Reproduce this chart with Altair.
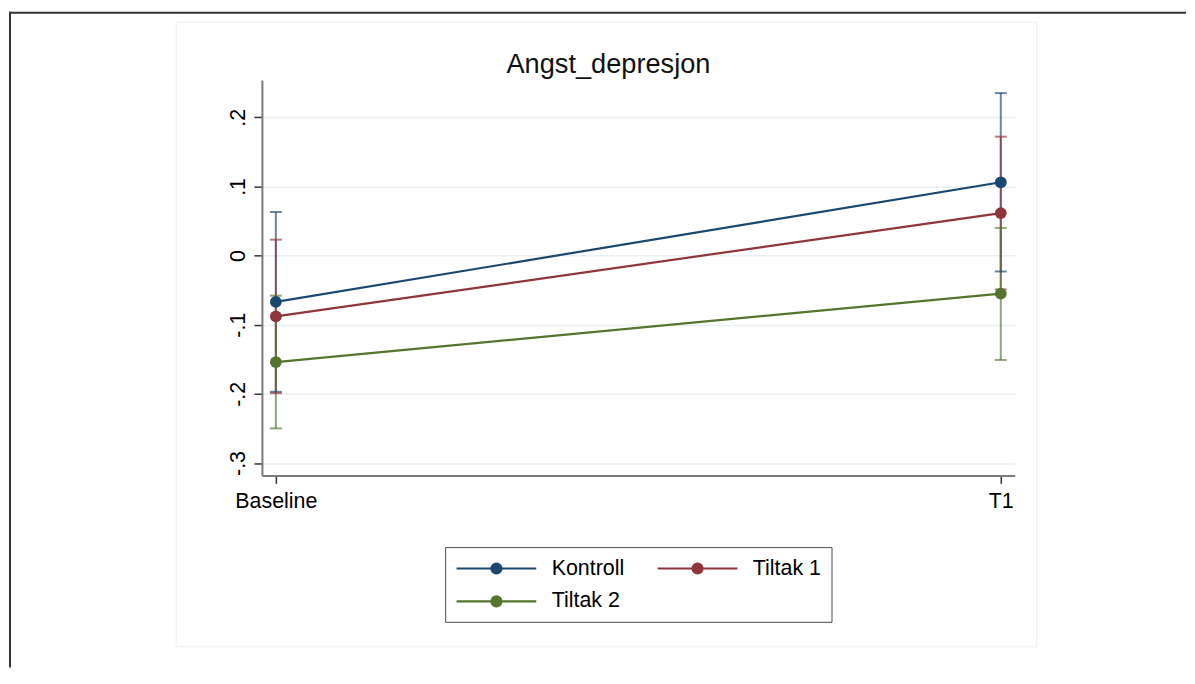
import altair as alt
import pandas as pd

groups = ["Kontroll", "Tiltak 1", "Tiltak 2"]
colors = ["#1a476f", "#90353b", "#55752f"]
times = ["Baseline", "T1"]
time_pos = [0, 1]

kontroll_mean = [-0.067, 0.106]
kontroll_lo = [-0.197, -0.023]
kontroll_hi = [0.063, 0.235]
tiltak1_mean = [-0.088, 0.0615]
tiltak1_lo = [-0.199, -0.049]
tiltak1_hi = [0.023, 0.172]
tiltak2_mean = [-0.154, -0.055]
tiltak2_lo = [-0.250, -0.151]
tiltak2_hi = [-0.058, 0.040]

y_ticks = [-0.3, -0.2, -0.1, 0, 0.1, 0.2]
y_labels = ["-.3", "-.2", "-.1", "0", ".1", ".2"]

series = {
    "Kontroll": (kontroll_mean, kontroll_lo, kontroll_hi),
    "Tiltak 1": (tiltak1_mean, tiltak1_lo, tiltak1_hi),
    "Tiltak 2": (tiltak2_mean, tiltak2_lo, tiltak2_hi),
}

rows = []
caps = []
for gi, g in enumerate(groups):
    m, lo, hi = series[g]
    for ti, t in enumerate(times):
        rows.append({"group": g, "order": gi, "t": time_pos[ti], "time": t,
                     "mean": m[ti], "lo": lo[ti], "hi": hi[ti]})
        caps.append({"group": g, "order": gi, "t": time_pos[ti], "v": lo[ti]})
        caps.append({"group": g, "order": gi, "t": time_pos[ti], "v": hi[ti]})
df = pd.DataFrame(rows)
caps_df = pd.DataFrame(caps)

FONT = "Liberation Sans"

y_expr = ""
for v, lab in zip(y_ticks, y_labels):
    y_expr += f"abs(datum.value - ({v})) < 1e-6 ? '{lab}' : "
y_expr += "''"
x_expr = ""
for v, lab in zip(time_pos, times):
    x_expr += f"abs(datum.value - ({v})) < 1e-6 ? '{lab}' : "
x_expr += "''"

xscale = alt.Scale(domain=[-0.01923, 1.01923], nice=False, zero=False)
yscale = alt.Scale(domain=[-0.318, 0.2538], nice=False, zero=False)
cscale = alt.Scale(domain=groups, range=colors)

xaxis = alt.Axis(values=time_pos, labelExpr=x_expr, title=None, grid=False,
                 tickSize=8, tickColor="#333333", tickWidth=1.5,
                 domainColor="#7a7a7a", domainWidth=2,
                 labelFont=FONT, labelFontSize=21.5, labelColor="#000000",
                 labelPadding=7, labelFlush=False, labelAlign="center")
yaxis = alt.Axis(values=y_ticks, labelExpr=y_expr, title=None, grid=True,
                 gridColor="#e8f0f2", gridWidth=1.5,
                 tickSize=8, tickColor="#333333", tickWidth=1.5,
                 domainColor="#7a7a7a", domainWidth=2,
                 labelFont=FONT, labelFontSize=21.5, labelColor="#000000",
                 labelAngle=270, labelAlign="center", labelBaseline="bottom",
                 labelPadding=4)

sym_path = "M-4,0L4,0M-0.5,0A0.5,0.5,0,1,0,0.5,0A0.5,0.5,0,1,0,-0.5,0Z"
legend = alt.Legend(title=None, orient="none", legendX=184, legendY=469,
                    direction="horizontal",
                    columns=2, columnPadding=29, rowPadding=11, padding=10,
                    strokeColor="#4d4d4d", fillColor="#ffffff",
                    symbolType=sym_path, symbolSize=400, symbolStrokeWidth=2.2,
                    symbolOpacity=1,
                    symbolOffset=30, labelOffset=44,
                    labelFont=FONT, labelFontSize=21.5, labelColor="#000000",
                    labelLimit=300)

deco = alt.Data(values=[{"a": 1}])

X = alt.X("t:Q", scale=xscale, axis=xaxis, title=None)

def Y(field):
    return alt.Y(field, scale=yscale, axis=yaxis, title=None)

base = alt.Chart(df)

ci = base.mark_rule(strokeWidth=2, opacity=0.65).encode(
    x=X, y=Y("lo:Q"), y2="hi:Q",
    stroke=alt.Stroke("group:N", scale=cscale, legend=legend),
    order="order:Q",
)
cap = alt.Chart(caps_df).mark_tick(orient="horizontal", size=12, thickness=2, opacity=0.65,
                                   strokeWidth=0).encode(
    x=X, y=Y("v:Q"),
    fill=alt.Fill("group:N", scale=cscale, legend=legend),
    order="order:Q",
)
lines = base.mark_line(strokeWidth=2.2).encode(
    x=X, y=Y("mean:Q"),
    stroke=alt.Stroke("group:N", scale=cscale, legend=legend),
    order="t:Q",
)
points = base.mark_point(filled=True, size=140, opacity=1).encode(
    x=X, y=Y("mean:Q"),
    fill=alt.Fill("group:N", scale=cscale, legend=legend),
    stroke=alt.Stroke("group:N", scale=cscale, legend=legend),
    strokeWidth=alt.value(0),
)

inner_box = alt.Chart(deco).mark_rect(fill="transparent", stroke="#efefef", strokeWidth=1).encode(
    x=alt.value(-86), x2=alt.value(778), y=alt.value(-58), y2=alt.value(569))
frame_v = alt.Chart(deco).mark_rule(color="#333333", strokeWidth=2).encode(
    x=alt.value(-253), y=alt.value(-68.7), y2=alt.value(590))
frame_h = alt.Chart(deco).mark_rule(color="#333333", strokeWidth=2).encode(
    x=alt.value(-254), x2=alt.value(928), y=alt.value(-67.7))

chart = alt.layer(ci, cap, lines, points, inner_box, frame_v, frame_h).properties(
    width=756, height=397,
    padding={"left": 0, "top": 1, "right": 0, "bottom": 0},
    background="#ffffff",
    title=alt.TitleParams(text="Angst_depresjon", font=FONT, fontSize=27.3,
                          fontWeight="normal", color="#111111", anchor="middle",
                          frame="group", dx=-30, offset=-90, baseline="alphabetic"),
).configure_view(strokeWidth=0)

chart.save("out.html", embed_options={"renderer": "svg", "actions": False})
